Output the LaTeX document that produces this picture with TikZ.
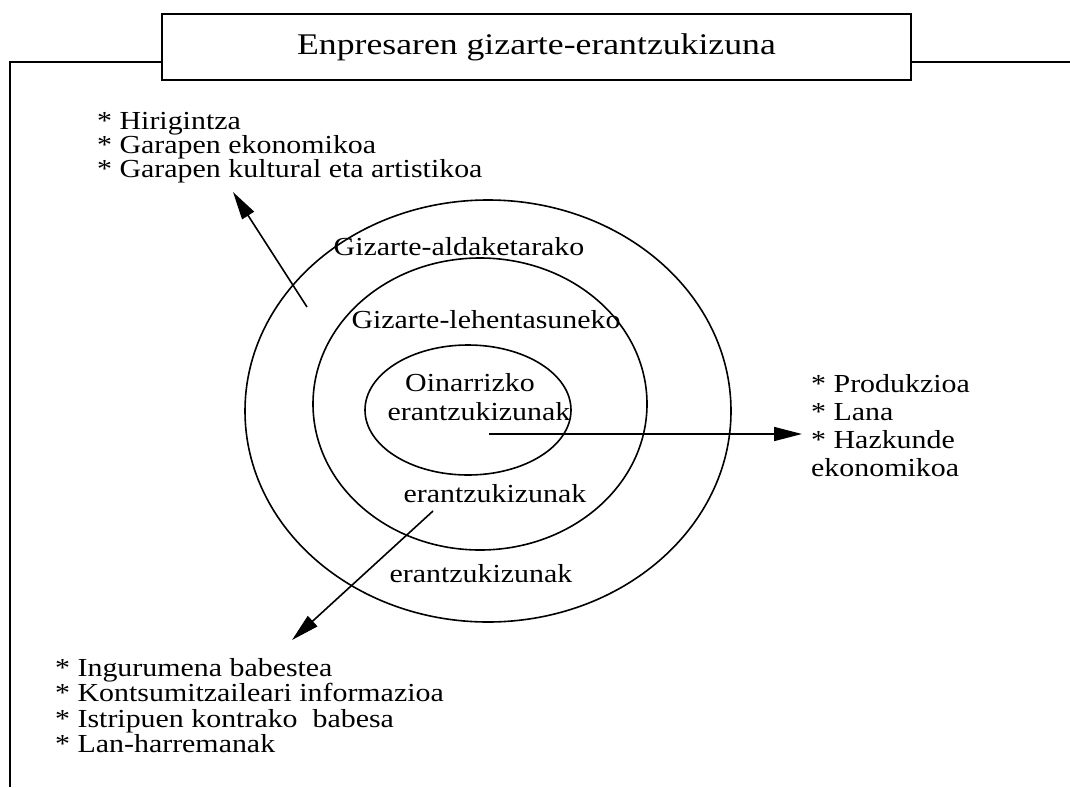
\documentclass[tikz,border=0pt]{standalone}
\usepackage{fontspec}
\setmainfont{Liberation Serif}[FakeStretch=1.15]
\newfontfamily\titlefont{Liberation Serif}[FakeStretch=1.19]
\usetikzlibrary{arrows.meta}
\begin{document}
\begin{tikzpicture}[x=1pt,y=-1pt,
  txt/.style={font=\fontsize{26}{26}\selectfont, inner sep=0pt, anchor=base west},
  ctxt/.style={font=\fontsize{26}{26}\selectfont, inner sep=0pt, anchor=base},
  ring/.style={draw, line width=1.6pt},
  arr/.style={line width=1.6pt, -{Triangle[length=28pt,width=14pt]}},
  frameline/.style={line width=1.8pt}]
\useasboundingbox (0,0) rectangle (1070,787);
% title box and frame
\node[draw, line width=1.8pt, minimum width=749pt, minimum height=66pt, inner sep=0pt,
      font=\titlefont\fontsize{30}{30}\selectfont] (title) at (536.5,47) {Enpresaren gizarte-erantzukizuna};
\coordinate (fy) at (0,62);
\coordinate (fr) at (1070,62);
\coordinate (fl) at (10,62);
\coordinate (fb) at (10,787);
\draw[frameline] (title.east |- fy) -- (fr);
\draw[frameline] (title.west |- fy) -- (fl) -- (fb);
% rings
\draw[ring] (488,411) ellipse [x radius=243, y radius=211];
\draw[ring] (480,404) ellipse [x radius=167, y radius=146];
\draw[ring] (468,410) ellipse [x radius=103, y radius=65];
% ring labels
\node[ctxt] (l1) at (459,255) {Gizarte-aldaketarako};
\node[ctxt] (l2) at (486,328) {Gizarte-lehentasuneko};
\node[ctxt] (l3) at (470,391) {Oinarrizko};
\node[ctxt] (l4) at (479,420) {erantzukizunak};
\node[ctxt] (l5) at (495,502) {erantzukizunak};
\node[ctxt] (l6) at (481,582) {erantzukizunak};
% top-left block
\node[txt] (a1) at (97,129) {* Hirigintza};
\node[txt] (a2) at (97,153) {* Garapen ekonomikoa};
\node[txt] (a3) at (97,177) {* Garapen kultural eta artistikoa};
% right block
\node[txt] (b1) at (811,392) {* Produkzioa};
\node[txt] (b2) at (811,420) {* Lana};
\node[txt] (b3) at (811,448) {* Hazkunde};
\node[txt] (b4) at (811,476) {ekonomikoa};
% bottom block
\node[txt] (c1) at (55,676) {* Ingurumena babestea};
\node[txt] (c2) at (55,701) {* Kontsumitzaileari informazioa};
\node[txt] (c3) at (55,727) {* Istripuen kontrako~ babesa};
\node[txt] (c4) at (55,752) {* Lan-harremanak};
% arrows
\coordinate (s1) at (307,307);
\coordinate (t1) at (233,192);
\coordinate (s2) at (489,434);
\coordinate (t2) at (802,434);
\coordinate (s3) at (433,511);
\coordinate (t3) at (292,640);
\draw[arr] (s1) -- (t1);
\draw[arr] (s2) -- (t2);
\draw[arr] (s3) -- (t3);
\end{tikzpicture}
\end{document}
